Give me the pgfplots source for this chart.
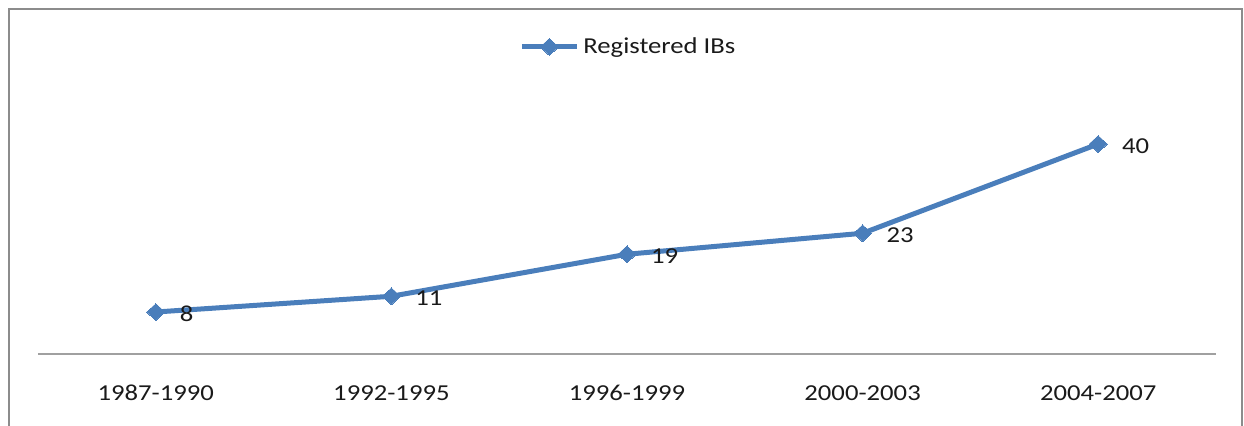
\documentclass[border=0pt]{standalone}
\usepackage{pgfplots}
\pgfplotsset{compat=1.18}
\usepackage{fontspec}
\setmainfont{Carlito}[FakeStretch=1.17]
\definecolor{seriesblue}{HTML}{4A7EBB}
\definecolor{framegray}{HTML}{8C8C8C}
\definecolor{axisgray}{HTML}{A0A0A0}
\definecolor{textdark}{HTML}{1A1A1A}
\begin{document}
\begin{tikzpicture}[font=\fontsize{11.4}{13.5}\selectfont, text=textdark]
\path[use as bounding box] (0,0) rectangle (622pt,212.5pt);
% outer chart frame (bottom edge falls outside the page)
\draw[framegray, line width=1pt] (4.5pt,-5pt) -- (4.5pt,208pt) -- (621pt,208pt) -- (621pt,-5pt);
\begin{axis}[
  at={(19pt,35.5pt)}, anchor=south west,
  scale only axis,
  width=589pt, height=131.25pt,
  xmin=-0.5, xmax=4.5, ymin=0, ymax=50,
  enlargelimits=false,
  hide y axis,
  axis x line*=bottom,
  x axis line style={draw=axisgray, line width=1pt},
  xtick={0,1,2,3,4},
  xticklabels={1987-1990,1992-1995,1996-1999,2000-2003,2004-2007},
  major tick length=0pt,
  xticklabel style={anchor=north, inner sep=0pt, yshift=-15.5pt},
  /pgf/number format/assume math mode=true,
  legend style={at={(0.502,1.17)}, anchor=center, draw=none, fill=none,
    inner sep=0pt, legend cell align=left},
  legend image code/.code={
    \draw[#1, mark repeat=2, mark phase=2] plot coordinates {(0pt,0pt) (13.75pt,0pt) (27.5pt,0pt)};
  },
  clip=false,
]
\addplot[seriesblue, line width=2.5pt,
  mark=diamond*, mark size=4.2pt,
  mark options={xscale=1.45, line width=0pt, fill=seriesblue},
  point meta=y,
  nodes near coords={\pgfmathprintnumber{\pgfplotspointmeta}},
  every node near coord/.style={anchor=west, inner sep=0pt, xshift=12pt, yshift=-1pt, text=textdark},
] coordinates {(0,8) (1,11) (2,19) (3,23) (4,40)};
\addlegendentry{Registered IBs}
\end{axis}
\end{tikzpicture}
\end{document}
